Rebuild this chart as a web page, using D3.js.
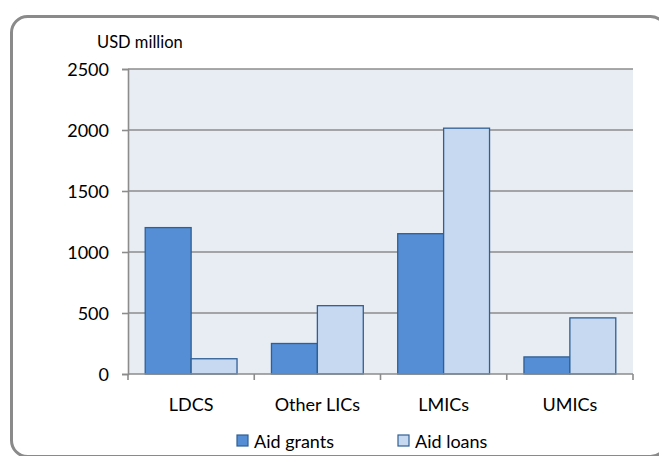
<!DOCTYPE html>
<html>
<head>
<meta charset="utf-8">
<script src="https://cdn.jsdelivr.net/npm/d3@7"></script>
<style>
  html, body { margin: 0; padding: 0; background: #fff; }
  svg { display: block; }
  text { font-family: Lato, "Open Sans", sans-serif; fill: #000; }
</style>
</head>
<body>
<svg id="chart" width="659" height="456"></svg>
<script>
// Aid by income group, USD million
const categories = ["LDCS", "Other LICs", "LMICs", "UMICs"];
const seriesNames = ["Aid grants", "Aid loans"];
const aidGrants = [1200, 250, 1150, 140];
const aidLoans = [125, 560, 2015, 460];
const yTicks = [0, 500, 1000, 1500, 2000, 2500];
const yUnit = "USD million";

const colors = { "Aid grants": "#558ED5", "Aid loans": "#C6D9F1" };
const strokeCol = "#2F5F94";

const svg = d3.select("#chart");
const plot = { left: 128, right: 633, top: 69, bottom: 374 };

// outer frame with rounded corners
svg.append("rect")
  .attr("x", 11.5).attr("y", 16.5)
  .attr("width", 655).attr("height", 440)
  .attr("rx", 16).attr("ry", 16)
  .attr("fill", "#fff")
  .attr("stroke", "#8a8a8a").attr("stroke-width", 3);

const x = d3.scaleBand().domain(categories).range([plot.left, plot.right]).paddingInner(0).paddingOuter(0);
const inner = d3.scaleBand().domain(seriesNames).range([0, x.bandwidth()]).paddingInner(0).paddingOuter(0.375);
const y = d3.scaleLinear().domain([0, 2500]).range([plot.bottom, plot.top]);

// plot area background
svg.append("rect")
  .attr("x", plot.left).attr("y", plot.top)
  .attr("width", plot.right - plot.left).attr("height", plot.bottom - plot.top)
  .attr("fill", "#E8ECF3");

// horizontal grid lines
svg.append("g").selectAll("line").data(yTicks.filter(d => d > 0)).join("line")
  .attr("x1", plot.left).attr("x2", plot.right)
  .attr("y1", d => y(d)).attr("y2", d => y(d))
  .attr("stroke", "#8c8c8c").attr("stroke-width", 1.6);

// bars
const rows = categories.map((c, i) => ({ cat: c, vals: [aidGrants[i], aidLoans[i]] }));
const groups = svg.append("g").selectAll("g").data(rows).join("g")
  .attr("transform", d => `translate(${x(d.cat)},0)`);
groups.selectAll("rect").data(d => seriesNames.map((s, j) => ({ s, v: d.vals[j] }))).join("rect")
  .attr("x", d => inner(d.s))
  .attr("width", inner.bandwidth())
  .attr("y", d => y(d.v))
  .attr("height", d => y(0) - y(d.v))
  .attr("fill", d => colors[d.s])
  .attr("stroke", strokeCol).attr("stroke-width", 1.3);

// y axis
const yAxis = svg.append("g").attr("transform", `translate(${plot.left},0)`)
  .call(d3.axisLeft(y).tickValues(yTicks).tickSize(6).tickPadding(13).tickFormat(d3.format("d")));
yAxis.select(".domain").attr("stroke", "#8c8c8c").attr("stroke-width", 1.6);
yAxis.selectAll(".tick line").attr("stroke", "#8c8c8c").attr("stroke-width", 1.6);
yAxis.selectAll("text").style("font-size", "18px").attr("dy", "0.36em");

// x axis
const xAxisG = svg.append("g");
xAxisG.append("line")
  .attr("x1", plot.left).attr("x2", plot.right)
  .attr("y1", plot.bottom).attr("y2", plot.bottom)
  .attr("stroke", "#8c8c8c").attr("stroke-width", 1.6);
const bounds = categories.map(c => x(c)).concat([plot.right]);
xAxisG.selectAll("line.tk").data(bounds).join("line").attr("class", "tk")
  .attr("x1", d => d).attr("x2", d => d)
  .attr("y1", plot.bottom).attr("y2", plot.bottom + 6)
  .attr("stroke", "#8c8c8c").attr("stroke-width", 1.6);
xAxisG.selectAll("text").data(categories).join("text")
  .attr("x", d => x(d) + x.bandwidth() / 2)
  .attr("y", 411)
  .attr("text-anchor", "middle")
  .style("font-size", "18px")
  .text(d => d);

// unit label
svg.append("text").attr("x", 97).attr("y", 48).style("font-size", "16.5px").text(yUnit);

// legend
const legendX = [237, 398];
const leg = svg.append("g").selectAll("g").data(seriesNames).join("g")
  .attr("transform", (d, i) => `translate(${legendX[i]},435)`);
leg.append("rect").attr("width", 11).attr("height", 11)
  .attr("fill", d => colors[d]).attr("stroke", strokeCol).attr("stroke-width", 1.2);
leg.append("text").attr("x", 17).attr("y", 12.5).style("font-size", "18px").text(d => d);
</script>
</body>
</html>
